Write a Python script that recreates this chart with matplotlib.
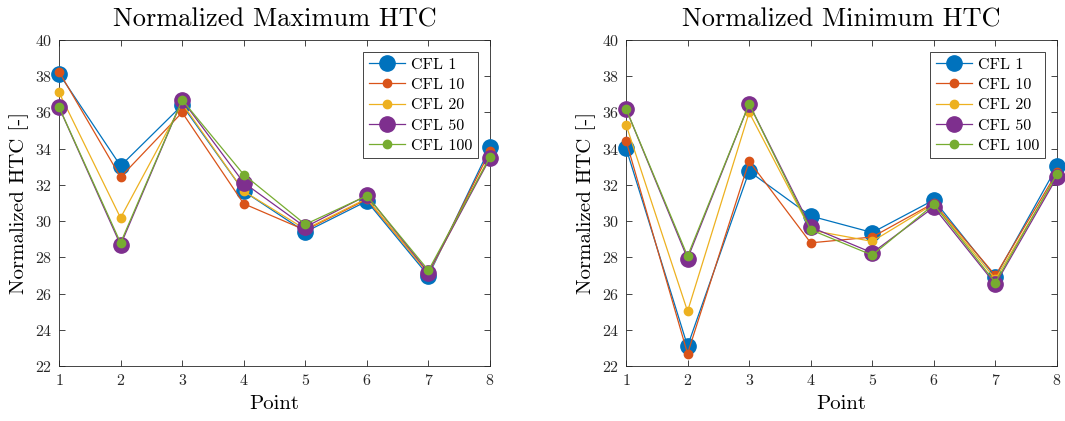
import matplotlib
matplotlib.use("Agg")
import matplotlib.pyplot as plt

plt.rcParams["font.family"] = ["cmr10", "DejaVu Serif"]
plt.rcParams["mathtext.fontset"] = "cm"
plt.rcParams["axes.formatter.use_mathtext"] = True

points = [1, 2, 3, 4, 5, 6, 7, 8]
labels = ["CFL 1", "CFL 10", "CFL 20", "CFL 50", "CFL 100"]

max_htc = {
    "CFL 1":   [38.15, 33.05, 36.40, 31.65, 29.40, 31.10, 26.98, 34.07],
    "CFL 10":  [38.25, 32.43, 36.00, 30.96, 29.50, 31.20, 27.10, 33.86],
    "CFL 20":  [37.11, 30.18, 36.50, 31.65, 29.55, 31.25, 27.10, 33.60],
    "CFL 50":  [36.29, 28.68, 36.69, 32.12, 29.67, 31.42, 27.16, 33.47],
    "CFL 100": [36.30, 28.80, 36.69, 32.57, 29.82, 31.40, 27.28, 33.53],
}
min_htc = {
    "CFL 1":   [34.04, 23.10, 32.75, 30.28, 29.37, 31.17, 26.92, 33.02],
    "CFL 10":  [34.45, 22.68, 33.31, 28.80, 29.12, 31.00, 27.00, 32.70],
    "CFL 20":  [35.33, 25.02, 36.00, 29.50, 28.88, 30.95, 26.80, 32.50],
    "CFL 50":  [36.20, 27.93, 36.47, 29.67, 28.25, 30.77, 26.51, 32.43],
    "CFL 100": [36.20, 28.07, 36.47, 29.52, 28.12, 30.92, 26.60, 32.61],
}

colors = ["#0072BD", "#D95319", "#EDB120", "#7E2F8E", "#77AC30"]
msizes = [11, 6, 6, 11, 6]

fig = plt.figure(figsize=(10.65, 4.21), dpi=100)
ax1 = fig.add_axes([59 / 1065, 1 - 366 / 421, 431 / 1065, 326 / 421])
ax2 = fig.add_axes([626 / 1065, 1 - 366 / 421, 431 / 1065, 326 / 421])

for ax, data, title in [(ax1, max_htc, "Normalized Maximum HTC"),
                        (ax2, min_htc, "Normalized Minimum HTC")]:
    for lab, c, ms in zip(labels, colors, msizes):
        ax.plot(points, data[lab], "-o", color=c, lw=0.9, ms=ms,
                mec=c, mfc=c, label=lab, clip_on=False, zorder=3)
    ax.set_xlim(1, 8)
    ax.set_ylim(22, 40)
    ax.set_xticks(points)
    ax.set_yticks(range(22, 41, 2))
    ax.tick_params(direction="in", top=True, right=True, labelsize=11.5,
                   length=4, width=0.6, colors="#262626", pad=5)
    for s in ax.spines.values():
        s.set_linewidth(0.6)
        s.set_color("#262626")
    ax.set_xlabel("Point", fontsize=15, labelpad=5)
    ax.set_ylabel("Normalized HTC [-]", fontsize=15, labelpad=4)
    ax.set_title(title, fontsize=19, pad=10)
    leg = ax.legend(loc="upper right", fontsize=11.5, fancybox=False,
                    framealpha=1, edgecolor="#262626", handlelength=2.3,
                    borderpad=0.35, labelspacing=0.38, handletextpad=0.35,
                    borderaxespad=0.75)
    leg.get_frame().set_linewidth(0.6)

fig.savefig("out.png", dpi=100)
